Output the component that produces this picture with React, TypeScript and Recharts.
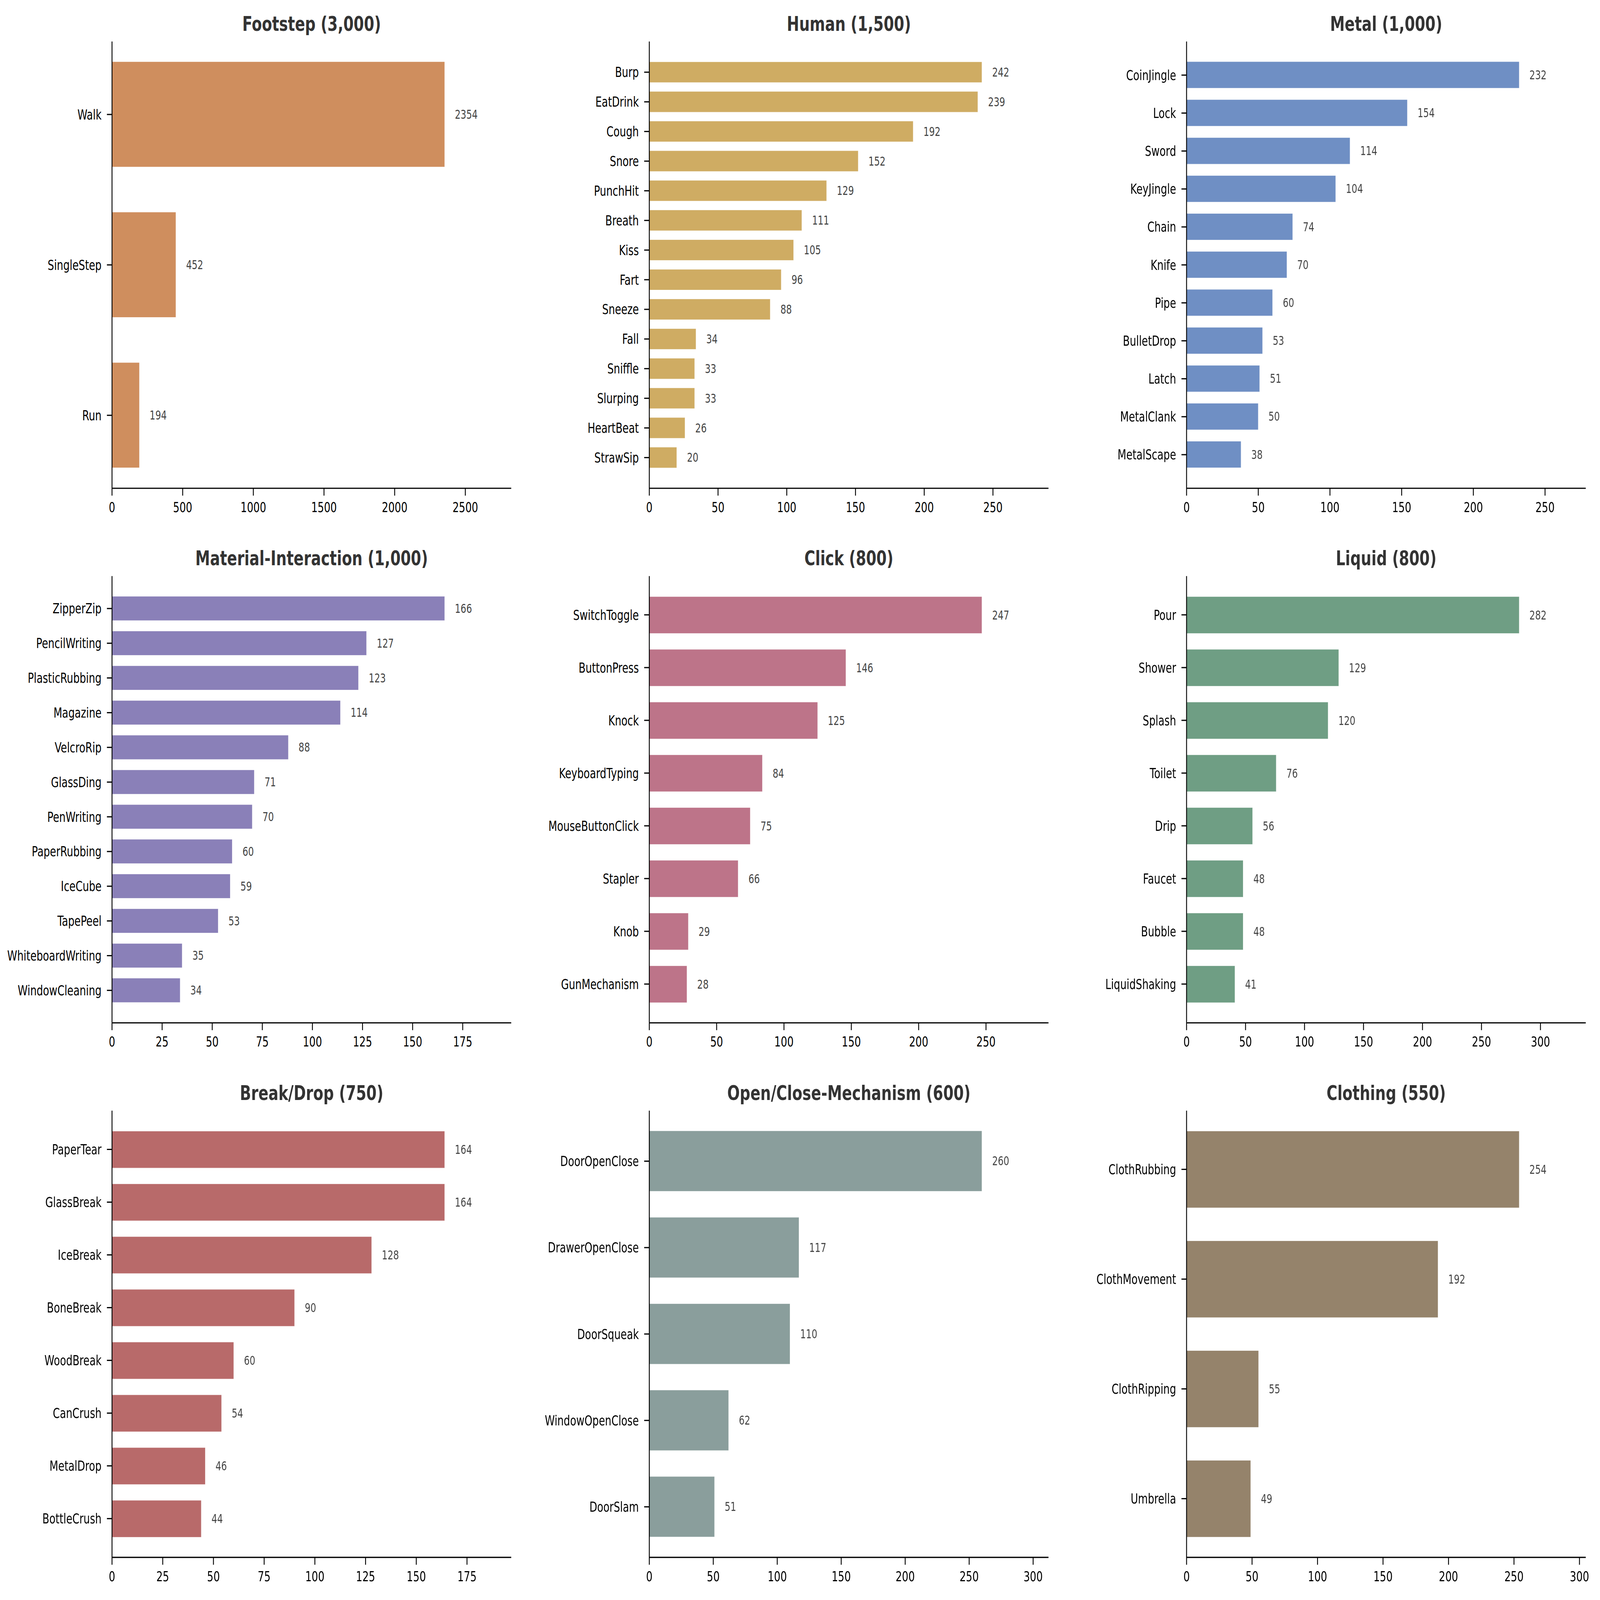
import React from 'react';
import { BarChart, Bar, XAxis, YAxis, LabelList } from 'recharts';

// category names + counts
const footstepNames = ['Walk', 'SingleStep', 'Run'];
const footstepValues = [2354, 452, 194];
const footstepTicks = [0, 500, 1000, 1500, 2000, 2500];

const humanNames = ['Burp', 'EatDrink', 'Cough', 'Snore', 'PunchHit', 'Breath', 'Kiss', 'Fart', 'Sneeze', 'Fall', 'Sniffle', 'Slurping', 'HeartBeat', 'StrawSip'];
const humanValues = [242, 239, 192, 152, 129, 111, 105, 96, 88, 34, 33, 33, 26, 20];
const humanTicks = [0, 50, 100, 150, 200, 250];

const metalNames = ['CoinJingle', 'Lock', 'Sword', 'KeyJingle', 'Chain', 'Knife', 'Pipe', 'BulletDrop', 'Latch', 'MetalClank', 'MetalScape'];
const metalValues = [232, 154, 114, 104, 74, 70, 60, 53, 51, 50, 38];
const metalTicks = [0, 50, 100, 150, 200, 250];

const materialNames = ['ZipperZip', 'PencilWriting', 'PlasticRubbing', 'Magazine', 'VelcroRip', 'GlassDing', 'PenWriting', 'PaperRubbing', 'IceCube', 'TapePeel', 'WhiteboardWriting', 'WindowCleaning'];
const materialValues = [166, 127, 123, 114, 88, 71, 70, 60, 59, 53, 35, 34];
const materialTicks = [0, 25, 50, 75, 100, 125, 150, 175];

const clickNames = ['SwitchToggle', 'ButtonPress', 'Knock', 'KeyboardTyping', 'MouseButtonClick', 'Stapler', 'Knob', 'GunMechanism'];
const clickValues = [247, 146, 125, 84, 75, 66, 29, 28];
const clickTicks = [0, 50, 100, 150, 200, 250];

const liquidNames = ['Pour', 'Shower', 'Splash', 'Toilet', 'Drip', 'Faucet', 'Bubble', 'LiquidShaking'];
const liquidValues = [282, 129, 120, 76, 56, 48, 48, 41];
const liquidTicks = [0, 50, 100, 150, 200, 250, 300];

const breakNames = ['PaperTear', 'GlassBreak', 'IceBreak', 'BoneBreak', 'WoodBreak', 'CanCrush', 'MetalDrop', 'BottleCrush'];
const breakValues = [164, 164, 128, 90, 60, 54, 46, 44];
const breakTicks = [0, 25, 50, 75, 100, 125, 150, 175];

const openCloseNames = ['DoorOpenClose', 'DrawerOpenClose', 'DoorSqueak', 'WindowOpenClose', 'DoorSlam'];
const openCloseValues = [260, 117, 110, 62, 51];
const openCloseTicks = [0, 50, 100, 150, 200, 250, 300];

const clothingNames = ['ClothRubbing', 'ClothMovement', 'ClothRipping', 'Umbrella'];
const clothingValues = [254, 192, 55, 49];
const clothingTicks = [0, 50, 100, 150, 200, 250, 300];

const panels = [
  { title: 'Footstep (3,000)', names: footstepNames, values: footstepValues, ticks: footstepTicks, color: '#CF8E5E' },
  { title: 'Human (1,500)', names: humanNames, values: humanValues, ticks: humanTicks, color: '#CFAC63' },
  { title: 'Metal (1,000)', names: metalNames, values: metalValues, ticks: metalTicks, color: '#6F8FC4' },
  { title: 'Material-Interaction (1,000)', names: materialNames, values: materialValues, ticks: materialTicks, color: '#8A80B8' },
  { title: 'Click (800)', names: clickNames, values: clickValues, ticks: clickTicks, color: '#BD7489' },
  { title: 'Liquid (800)', names: liquidNames, values: liquidValues, ticks: liquidTicks, color: '#6F9E84' },
  { title: 'Break/Drop (750)', names: breakNames, values: breakValues, ticks: breakTicks, color: '#B86A6A' },
  { title: 'Open/Close-Mechanism (600)', names: openCloseNames, values: openCloseValues, ticks: openCloseTicks, color: '#8A9E9C' },
  { title: 'Clothing (550)', names: clothingNames, values: clothingValues, ticks: clothingTicks, color: '#95836B' },
];

const FONT = 'DejaVu Sans';
const FIG_W = 5956;
const FIG_H = 4355;
const COL_W = 2000;
const ROW_H = 1455;
const CHART_W = 1990;
const AXIS_LEFT = 417;
const PLOT_TOP = 113;
const PLOT_W = 1486;
const PLOT_H = 1216;

const Panel = ({ p, col, row }: any) => {
  const n = p.names.length;
  const data = p.names.map((name: string, i: number) => ({ name, value: p.values[i] }));
  const max = Math.max(...p.values);
  // matplotlib-style barh spacing: height 0.7, 5% y margins
  const span = 1.1 * (n - 0.3);
  const pad = (PLOT_H * (1 - n / span)) / 2;
  const barSize = (0.7 * PLOT_H) / span;

  return (
    <div style={{ position: 'absolute', left: col * COL_W, top: row * ROW_H, width: CHART_W, height: ROW_H }}>
      <div
        style={{
          position: 'absolute',
          left: AXIS_LEFT,
          width: PLOT_W,
          top: 65 - 32,
          lineHeight: '64px',
          textAlign: 'center',
          fontFamily: FONT,
          fontWeight: 'bold',
          fontSize: 55,
          color: '#333333',
        }}
      >
        {p.title}
      </div>
      <BarChart
        width={CHART_W}
        height={ROW_H}
        data={data}
        layout="vertical"
        margin={{ top: PLOT_TOP, right: CHART_W - AXIS_LEFT - PLOT_W, left: 0, bottom: 0 }}
        barCategoryGap={0}
      >
        <XAxis
          type="number"
          domain={[0, max * 1.2]}
          ticks={p.ticks}
          height={ROW_H - PLOT_TOP - PLOT_H}
          axisLine={{ stroke: '#000', strokeWidth: 3.3 }}
          tickLine={{ stroke: '#000', strokeWidth: 3.3 }}
          tickSize={20}
          tickMargin={18}
          tick={{ fill: '#000', fontSize: 37.5, fontFamily: FONT }}
        />
        <YAxis
          type="category"
          dataKey="name"
          width={AXIS_LEFT}
          interval={0}
          padding={{ top: pad, bottom: pad }}
          axisLine={{ stroke: '#000', strokeWidth: 3.3 }}
          tickLine={{ stroke: '#000', strokeWidth: 3.3 }}
          tickSize={19}
          tickMargin={20}
          tick={{ fill: '#000', fontSize: 37.5, fontFamily: FONT }}
        />
        <Bar dataKey="value" fill={p.color} barSize={barSize} stroke="#ffffff" strokeWidth={1} isAnimationActive={false}>
          <LabelList dataKey="value" position="right" offset={38} fill="#444444" fontSize={33.3} fontFamily={FONT} />
        </Bar>
      </BarChart>
    </div>
  );
};

export default function App() {
  // the photographed viewport can come out smaller than the figure; fit the whole figure into it
  const vw = typeof window !== 'undefined' ? window.innerWidth : FIG_W;
  const vh = typeof window !== 'undefined' ? window.innerHeight : FIG_H;
  const sx = Math.min(1, vw / FIG_W);
  const sy = Math.min(1, vh / FIG_H);

  return (
    <div style={{ position: 'fixed', left: 0, top: 0, width: vw, height: vh, overflow: 'hidden', background: '#fff' }}>
      <div
        style={{
          position: 'absolute',
          left: 0,
          top: 0,
          width: FIG_W,
          height: FIG_H,
          background: '#fff',
          transform: `scale(${sx}, ${sy})`,
          transformOrigin: '0 0',
        }}
      >
        {panels.map((p, i) => (
          <Panel key={p.title} p={p} col={i % 3} row={Math.floor(i / 3)} />
        ))}
      </div>
    </div>
  );
}
